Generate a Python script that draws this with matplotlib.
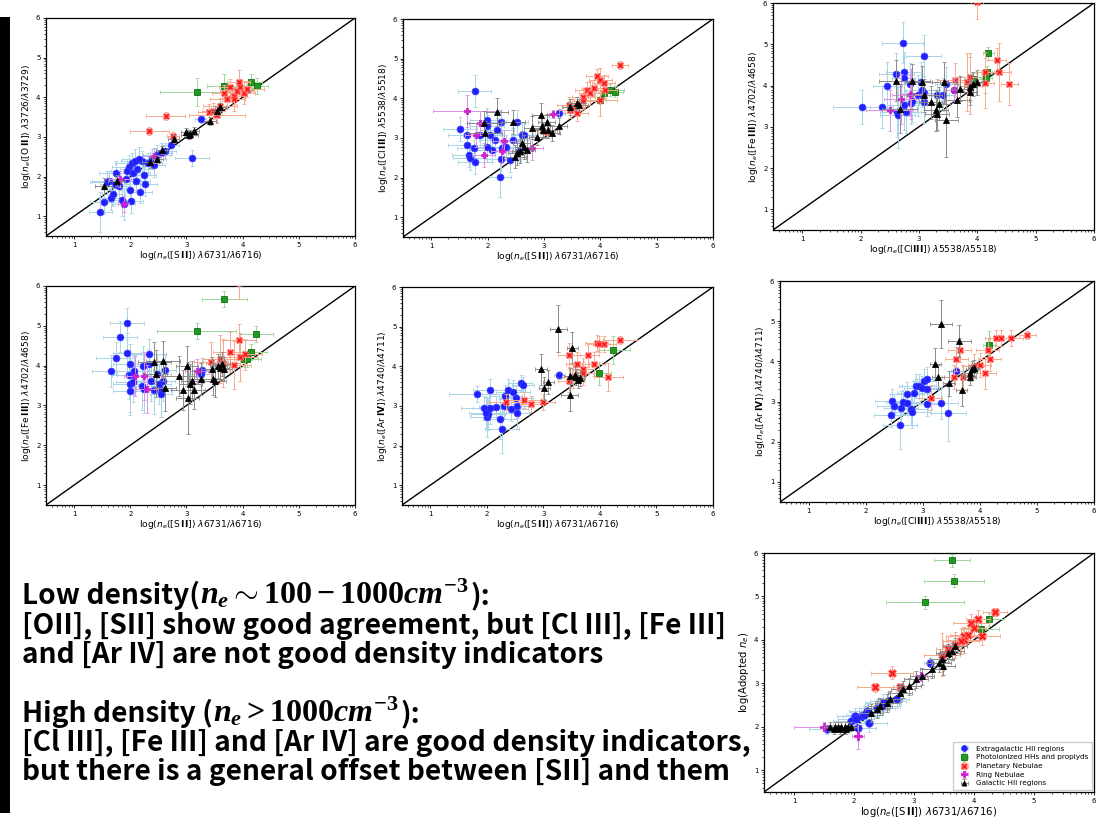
import numpy as np
import matplotlib
matplotlib.use('Agg')
import matplotlib.pyplot as plt
from matplotlib.patches import Rectangle
from matplotlib.ticker import FixedLocator

# each point: (x, y, xerr, yerr), log(ne) values read off the slide
# panel 1: [O II] vs [S II]
p1_ehii = [(1.47, 1.10, 0.2, 0.5), (1.53, 1.35, 0.25, 0.3), (1.65, 1.45, 0.2, 0.3), (1.62, 1.90, 0.3, 0.25),
           (1.70, 1.55, 0.2, 0.3), (1.75, 2.10, 0.3, 0.3), (1.80, 1.75, 0.2, 0.3), (1.85, 1.40, 0.2, 0.4),
           (1.88, 1.30, 0.2, 0.4), (1.92, 1.95, 0.25, 0.3), (1.97, 2.25, 0.3, 0.3), (2.00, 1.65, 0.2, 0.3),
           (2.02, 1.38, 0.2, 0.3), (2.03, 2.35, 0.3, 0.25), (2.05, 2.10, 0.3, 0.3), (2.08, 2.40, 0.25, 0.3),
           (2.12, 2.20, 0.3, 0.3), (2.18, 1.62, 0.2, 0.3), (2.20, 2.40, 0.25, 0.25), (2.25, 2.05, 0.2, 0.3),
           (2.27, 1.82, 0.2, 0.3), (2.32, 2.35, 0.25, 0.25), (2.38, 2.45, 0.25, 0.25), (2.42, 2.30, 0.2, 0.3),
           (2.48, 2.55, 0.25, 0.25), (2.55, 2.60, 0.2, 0.25), (2.62, 2.65, 0.2, 0.2), (2.72, 2.80, 0.15, 0.2),
           (3.10, 2.46, 0.3, 0.2), (3.25, 3.45, 0.1, 0.1), (1.72, 1.80, 0.25, 0.3), (1.95, 2.15, 0.3, 0.3),
           (2.10, 1.90, 0.25, 0.3), (1.58, 1.85, 0.3, 0.3), (2.15, 2.45, 0.3, 0.3)]
p1_hh = [(3.18, 4.14, 0.65, 0.35), (3.67, 4.28, 0.3, 0.3), (4.14, 4.38, 0.2, 0.2), (4.26, 4.28, 0.2, 0.2)]
p1_pn = [(2.63, 3.52, 0.35, 0.1), (2.34, 3.14, 0.35, 0.1), (2.76, 3.03, 0.1, 0.1), (3.40, 3.62, 0.2, 0.2),
         (3.48, 3.66, 0.2, 0.2), (3.60, 3.79, 0.3, 0.2), (3.72, 3.96, 0.3, 0.25), (3.78, 4.25, 0.2, 0.2),
         (3.84, 4.04, 0.2, 0.2), (3.84, 3.96, 0.2, 0.3), (3.90, 4.17, 0.3, 0.2), (3.93, 4.38, 0.2, 0.3),
         (3.96, 4.25, 0.2, 0.2), (4.02, 4.12, 0.2, 0.3), (4.08, 4.21, 0.3, 0.2), (3.66, 4.10, 0.2, 0.2),
         (3.55, 3.55, 0.5, 0.2)]
p1_rn = [(1.82, 1.94, 0.2, 0.2), (2.42, 2.53, 0.2, 0.2), (1.88, 1.30, 0.1, 0.2)]
p1_ghii = [(1.53, 1.77, 0.15, 0.2), (1.76, 1.90, 0.15, 0.15), (2.36, 2.36, 0.15, 0.15), (2.48, 2.45, 0.1, 0.1),
           (2.56, 2.66, 0.1, 0.1), (2.77, 2.95, 0.1, 0.1), (3.00, 3.12, 0.1, 0.1), (3.06, 3.08, 0.1, 0.1),
           (3.13, 3.16, 0.1, 0.1), (3.42, 3.41, 0.1, 0.1), (3.54, 3.66, 0.1, 0.1), (3.60, 3.75, 0.1, 0.1),
           (3.05, 3.05, 0.15, 0.1)]

# panel 2: [Cl III] vs [S II]
p2_ehii = [(1.51, 3.22, 0.3, 0.3), (1.64, 3.08, 0.35, 0.3), (1.64, 2.82, 0.35, 0.3), (1.67, 2.57, 0.3, 0.3),
           (1.68, 2.49, 0.3, 0.3), (1.76, 2.74, 0.3, 0.3), (1.78, 2.38, 0.3, 0.3), (1.77, 4.19, 0.3, 0.4),
           (1.87, 3.08, 0.3, 0.3), (1.99, 3.45, 0.3, 0.3), (1.99, 3.29, 0.3, 0.3), (1.99, 2.78, 0.3, 0.4),
           (2.05, 3.08, 0.25, 0.3), (2.08, 2.70, 0.3, 0.3), (2.14, 2.95, 0.3, 0.3), (2.17, 3.20, 0.3, 0.3),
           (2.23, 3.41, 0.3, 0.3), (2.23, 2.46, 0.3, 0.4), (2.22, 2.02, 0.2, 0.5), (2.26, 2.74, 0.2, 0.3),
           (2.32, 2.78, 0.3, 0.3), (2.40, 2.45, 0.2, 0.3), (2.46, 2.95, 0.3, 0.3), (2.52, 3.41, 0.2, 0.3),
           (2.55, 2.66, 0.2, 0.3), (2.61, 3.08, 0.2, 0.3), (2.64, 3.08, 0.2, 0.3), (3.26, 3.62, 0.1, 0.1)]
p2_hh = [(4.06, 4.13, 0.15, 0.15), (4.17, 4.21, 0.25, 0.15), (4.26, 4.17, 0.15, 0.15), (4.00, 3.96, 0.1, 0.1)]
p2_pn = [(4.35, 4.84, 0.15, 0.1), (3.94, 4.55, 0.2, 0.2), (4.00, 4.46, 0.2, 0.3), (4.06, 4.38, 0.2, 0.2),
         (3.76, 4.21, 0.2, 0.2), (3.82, 4.13, 0.2, 0.3), (3.88, 4.25, 0.2, 0.2), (3.70, 4.04, 0.2, 0.2),
         (3.70, 3.92, 0.2, 0.2), (3.53, 3.79, 0.2, 0.2), (3.44, 3.83, 0.2, 0.2), (3.58, 3.62, 0.2, 0.2),
         (3.47, 3.71, 0.2, 0.2), (4.00, 3.96, 0.3, 0.4), (4.09, 4.21, 0.2, 0.2), (3.05, 3.16, 0.15, 0.15)]
p2_rn = [(1.64, 3.68, 0.6, 0.4), (1.80, 3.08, 0.2, 0.3), (1.87, 3.37, 0.2, 0.3), (1.93, 2.57, 0.2, 0.3),
         (2.29, 2.91, 0.2, 0.3), (2.26, 2.66, 0.2, 0.3), (2.79, 2.74, 0.2, 0.3), (3.16, 3.60, 0.1, 0.1)]
p2_ghii = [(2.17, 3.66, 0.2, 0.35), (1.93, 3.37, 0.3, 0.3), (1.96, 3.12, 0.3, 0.3), (2.46, 3.41, 0.2, 0.3),
           (2.49, 2.53, 0.2, 0.3), (2.52, 2.61, 0.15, 0.3), (2.58, 2.66, 0.15, 0.3), (2.61, 2.87, 0.15, 0.3),
           (2.64, 2.78, 0.15, 0.3), (2.70, 2.70, 0.15, 0.3), (2.79, 3.26, 0.15, 0.3), (2.88, 3.03, 0.15, 0.2),
           (2.94, 3.58, 0.15, 0.3), (2.96, 3.29, 0.15, 0.2), (2.99, 3.20, 0.15, 0.2), (3.05, 3.41, 0.15, 0.2),
           (3.08, 3.20, 0.15, 0.2), (3.14, 3.12, 0.15, 0.2), (3.26, 3.30, 0.15, 0.2), (3.47, 3.79, 0.15, 0.2),
           (3.58, 3.87, 0.15, 0.15), (3.63, 3.83, 0.15, 0.15)]

# panel 3: [Fe III] vs [Cl III]
p3_ehii = [(2.02, 3.48, 0.5, 0.4), (2.36, 3.48, 0.2, 0.5), (2.46, 3.98, 0.25, 0.6), (2.61, 4.28, 0.3, 0.5),
           (2.63, 3.36, 0.3, 0.6), (2.64, 3.28, 0.3, 0.8), (2.72, 5.04, 0.35, 0.5), (2.74, 4.32, 0.3, 0.5),
           (2.74, 4.18, 0.2, 0.5), (2.75, 3.52, 0.3, 0.6), (2.78, 3.36, 0.25, 0.5), (2.85, 4.04, 0.2, 0.5),
           (2.87, 3.58, 0.2, 0.5), (2.89, 3.62, 0.2, 0.5), (2.98, 3.76, 0.2, 0.5), (3.03, 4.08, 0.2, 0.5),
           (3.06, 3.88, 0.3, 0.4), (3.08, 4.72, 0.3, 0.5), (3.08, 3.60, 0.3, 0.5), (3.09, 3.82, 0.2, 0.4),
           (3.31, 3.76, 0.2, 0.4), (3.42, 3.78, 0.2, 0.4), (3.47, 4.04, 0.2, 0.4), (3.60, 3.88, 0.15, 0.3)]
p3_hh = [(4.19, 4.78, 0.1, 0.15), (4.16, 4.32, 0.1, 0.15), (4.15, 4.18, 0.1, 0.15), (3.93, 4.16, 0.15, 0.15)]
p3_pn = [(3.61, 4.14, 0.3, 0.4), (3.82, 4.08, 0.2, 0.7), (3.88, 4.20, 0.2, 0.6), (3.88, 4.00, 0.2, 0.7),
         (4.13, 4.32, 0.15, 0.5), (4.13, 4.06, 0.15, 0.6), (4.34, 4.62, 0.15, 0.3), (4.37, 4.32, 0.2, 0.7),
         (4.55, 4.04, 0.15, 0.5), (3.99, 6.02, 0.1, 0.4)]
p3_rn = [(2.50, 3.40, 0.4, 0.5), (2.70, 3.68, 0.3, 0.6), (2.84, 3.76, 0.3, 0.5), (2.87, 3.80, 0.2, 0.6),
         (3.60, 3.88, 0.15, 0.3)]
p3_ghii = [(2.61, 4.12, 0.3, 0.5), (2.67, 3.44, 0.3, 0.6), (2.89, 4.12, 0.3, 0.4), (3.06, 4.08, 0.3, 0.4),
           (3.09, 3.76, 0.3, 0.4), (3.20, 3.60, 0.2, 0.4), (3.29, 3.40, 0.2, 0.5), (3.31, 3.32, 0.2, 0.4),
           (3.34, 3.56, 0.2, 0.4), (3.47, 3.16, 0.2, 0.9), (3.43, 4.08, 0.2, 0.5), (3.65, 3.64, 0.2, 0.4),
           (3.71, 3.92, 0.15, 0.3), (3.88, 3.96, 0.1, 0.3), (3.88, 3.84, 0.1, 0.3), (3.93, 4.04, 0.1, 0.3),
           (3.99, 4.08, 0.1, 0.3)]

# panel 4: [Fe III] vs [S II]
p4_ehii = [(1.66, 3.86, 0.35, 0.4), (1.74, 4.20, 0.35, 0.4), (1.82, 4.73, 0.3, 0.4), (1.94, 5.06, 0.3, 0.4),
           (1.94, 4.31, 0.25, 0.5), (1.97, 3.76, 0.3, 0.6), (1.99, 3.53, 0.3, 0.7), (2.00, 3.36, 0.3, 0.6),
           (2.00, 4.05, 0.3, 0.5), (2.05, 3.58, 0.3, 0.5), (2.06, 3.76, 0.3, 0.5), (2.07, 3.86, 0.3, 0.4),
           (2.21, 3.49, 0.25, 0.6), (2.23, 3.99, 0.25, 0.5), (2.24, 3.42, 0.25, 0.6), (2.33, 4.28, 0.3, 0.4),
           (2.34, 4.03, 0.3, 0.4), (2.37, 3.61, 0.25, 0.5), (2.42, 3.39, 0.25, 0.6), (2.48, 3.80, 0.25, 0.5),
           (2.52, 3.53, 0.2, 0.5), (2.54, 3.40, 0.2, 0.7), (2.55, 3.30, 0.2, 0.6), (2.59, 3.61, 0.2, 0.5),
           (2.61, 3.89, 0.2, 0.4), (3.25, 3.80, 0.2, 0.3), (3.28, 3.89, 0.15, 0.3)]
p4_hh = [(3.67, 5.68, 0.4, 0.2), (3.18, 4.86, 0.7, 0.2), (4.24, 4.79, 0.3, 0.2), (4.14, 4.34, 0.3, 0.2),
         (4.02, 4.17, 0.3, 0.2), (4.08, 4.16, 0.2, 0.2)]
p4_pn = [(3.44, 4.10, 0.3, 0.5), (3.60, 4.17, 0.3, 0.6), (3.65, 4.07, 0.3, 0.6), (3.78, 4.34, 0.3, 0.5),
         (3.85, 4.01, 0.3, 0.6), (3.93, 4.64, 0.3, 0.4), (3.96, 4.22, 0.3, 0.6), (4.05, 4.28, 0.3, 0.4),
         (3.93, 6.08, 0.2, 0.4)]
p4_rn = [(2.09, 3.74, 0.2, 0.5), (2.24, 3.74, 0.3, 0.6), (2.30, 3.42, 0.2, 0.6), (3.18, 3.86, 0.2, 0.3)]
p4_ghii = [(2.43, 4.10, 0.3, 0.5), (2.46, 3.80, 0.2, 0.6), (2.58, 4.11, 0.3, 0.5), (2.62, 3.45, 0.2, 0.6),
           (2.87, 3.74, 0.3, 0.5), (2.93, 3.39, 0.2, 0.5), (3.01, 3.99, 0.2, 0.5), (3.02, 3.19, 0.2, 0.9),
           (3.07, 3.53, 0.2, 0.5), (3.10, 3.61, 0.2, 0.5), (3.13, 3.40, 0.2, 0.5), (3.25, 3.66, 0.2, 0.4),
           (3.45, 3.91, 0.2, 0.3), (3.47, 3.66, 0.2, 0.4), (3.51, 3.61, 0.2, 0.4), (3.57, 3.99, 0.15, 0.3),
           (3.60, 3.93, 0.15, 0.3), (3.63, 4.03, 0.15, 0.3), (3.66, 3.91, 0.15, 0.3)]

# panel 5: [Ar IV] vs [S II]
p5_ehii = [(1.83, 3.30, 0.5, 0.2), (1.95, 2.94, 0.4, 0.3), (2.00, 2.71, 0.3, 0.5), (2.02, 2.80, 0.3, 0.4),
           (2.05, 3.39, 0.3, 0.3), (2.06, 2.94, 0.3, 0.4), (2.17, 2.96, 0.3, 0.3), (2.24, 2.67, 0.3, 0.5),
           (2.27, 2.42, 0.3, 0.6), (2.30, 3.00, 0.3, 0.3), (2.33, 3.24, 0.3, 0.3), (2.37, 3.39, 0.3, 0.3),
           (2.42, 2.92, 0.3, 0.3), (2.46, 3.35, 0.3, 0.3), (2.52, 3.21, 0.3, 0.3), (2.53, 3.00, 0.2, 0.3),
           (2.54, 2.83, 0.2, 0.4), (2.60, 3.58, 0.2, 0.2), (2.64, 3.54, 0.2, 0.2), (3.28, 3.78, 0.1, 0.1),
           (1.99, 2.82, 0.3, 0.4)]
p5_hh = [(3.99, 3.82, 0.2, 0.3), (4.24, 4.41, 0.3, 0.35)]
p5_pn = [(2.34, 3.09, 0.3, 0.2), (2.65, 3.15, 0.3, 0.2), (2.79, 3.05, 0.2, 0.2), (3.00, 3.09, 0.2, 0.2),
         (3.45, 4.28, 0.2, 0.3), (3.60, 4.05, 0.2, 0.3), (3.46, 3.64, 0.2, 0.3), (3.70, 3.92, 0.2, 0.3),
         (3.70, 3.82, 0.2, 0.3), (3.79, 4.28, 0.2, 0.3), (3.89, 4.05, 0.2, 0.3), (3.94, 4.59, 0.2, 0.2),
         (3.98, 4.56, 0.2, 0.2), (4.08, 4.57, 0.2, 0.2), (4.35, 4.66, 0.3, 0.1), (4.15, 3.73, 0.25, 0.35),
         (3.53, 3.74, 0.2, 0.3)]
p5_rn = []
p5_ghii = [(3.26, 4.95, 0.15, 0.6), (3.51, 4.47, 0.1, 0.4), (2.96, 3.92, 0.1, 0.4), (3.09, 3.60, 0.1, 0.3),
           (3.02, 3.44, 0.1, 0.3), (3.47, 3.28, 0.15, 0.4), (3.47, 3.75, 0.1, 0.2), (3.56, 3.77, 0.1, 0.2),
           (3.58, 3.72, 0.1, 0.2), (3.61, 3.66, 0.1, 0.2), (3.64, 3.70, 0.1, 0.2)]

# panel 6: [Ar IV] vs [Cl III]
p6_ehii = [(2.45, 2.66, 0.3, 0.3), (2.47, 3.01, 0.3, 0.3), (2.50, 2.88, 0.3, 0.3), (2.60, 2.42, 0.3, 0.6),
           (2.62, 2.85, 0.3, 0.4), (2.66, 2.99, 0.3, 0.3), (2.72, 3.18, 0.3, 0.3), (2.73, 2.96, 0.3, 0.3),
           (2.79, 2.81, 0.3, 0.4), (2.82, 2.74, 0.3, 0.4), (2.85, 3.22, 0.3, 0.3), (2.89, 3.38, 0.3, 0.3),
           (2.93, 3.38, 0.3, 0.3), (2.98, 3.34, 0.3, 0.3), (3.03, 3.51, 0.2, 0.3), (3.07, 3.55, 0.2, 0.3),
           (3.07, 3.32, 0.2, 0.3), (3.08, 2.95, 0.2, 0.3), (3.32, 2.96, 0.3, 0.4), (3.45, 2.71, 0.3, 0.7),
           (3.59, 3.77, 0.1, 0.1)]
p6_hh = [(4.16, 4.41, 0.1, 0.35), (3.90, 3.80, 0.1, 0.1)]
p6_pn = [(3.14, 3.10, 0.2, 0.3), (3.54, 3.61, 0.2, 0.3), (3.59, 4.06, 0.2, 0.3), (3.65, 4.29, 0.2, 0.3),
         (3.71, 3.61, 0.2, 0.3), (3.89, 3.88, 0.2, 0.3), (4.00, 3.92, 0.2, 0.3), (4.09, 3.71, 0.2, 0.4),
         (4.14, 4.29, 0.2, 0.3), (4.17, 4.06, 0.2, 0.3), (4.29, 4.58, 0.2, 0.2), (4.37, 4.59, 0.2, 0.2),
         (4.55, 4.58, 0.2, 0.2), (4.83, 4.66, 0.15, 0.1)]
p6_rn = []
p6_ghii = [(3.32, 4.93, 0.2, 0.6), (3.64, 4.50, 0.2, 0.4), (3.22, 3.94, 0.1, 0.4), (3.27, 3.61, 0.1, 0.3),
           (3.46, 3.45, 0.1, 0.3), (3.68, 3.29, 0.1, 0.4), (3.83, 3.71, 0.1, 0.2), (3.86, 3.80, 0.1, 0.2),
           (3.89, 3.84, 0.1, 0.2), (3.83, 3.61, 0.1, 0.2)]

# panel 7: adopted ne vs [S II]
p7_ehii = [(1.55, 1.94, 0.3, 0.1), (1.95, 2.13, 0.3, 0.2), (2.01, 2.24, 0.3, 0.2), (2.03, 2.17, 0.3, 0.2),
           (2.06, 1.97, 0.3, 0.3), (2.12, 2.24, 0.3, 0.2), (2.17, 2.28, 0.3, 0.2), (2.22, 2.36, 0.3, 0.2),
           (2.25, 2.09, 0.3, 0.2), (2.39, 2.43, 0.3, 0.2), (2.47, 2.47, 0.3, 0.2), (2.49, 2.55, 0.3, 0.2),
           (2.57, 2.59, 0.3, 0.2), (2.71, 2.63, 0.2, 0.2), (3.26, 3.48, 0.1, 0.1)]
p7_hh = [(3.64, 5.83, 0.3, 0.15), (3.67, 5.36, 0.5, 0.15), (3.18, 4.87, 0.65, 0.15), (4.25, 4.48, 0.25, 0.15),
         (4.12, 4.24, 0.3, 0.15)]
p7_pn = [(4.35, 4.64, 0.2, 0.1), (4.06, 4.48, 0.2, 0.2), (3.95, 4.39, 0.3, 0.2), (4.00, 4.27, 0.2, 0.2),
         (3.84, 4.08, 0.3, 0.2), (3.90, 4.12, 0.3, 0.2), (3.84, 4.00, 0.3, 0.3), (3.79, 3.97, 0.3, 0.3),
         (4.14, 4.08, 0.3, 0.2), (2.64, 3.25, 0.35, 0.15), (2.35, 2.91, 0.3, 0.1), (2.77, 2.91, 0.1, 0.1),
         (3.46, 3.66, 0.3, 0.5), (3.57, 3.78, 0.2, 0.3), (3.68, 3.89, 0.2, 0.3)]
p7_rn = [(1.50, 2.00, 0.5, 0.1), (2.06, 1.78, 0.1, 0.3), (3.11, 3.16, 0.1, 0.1)]
p7_ghii = [(1.60, 2.00, 0.1, 0.1), (1.68, 2.00, 0.1, 0.1), (1.74, 2.00, 0.1, 0.1), (1.79, 2.00, 0.1, 0.1),
           (1.85, 2.00, 0.1, 0.1), (1.90, 2.00, 0.1, 0.1), (1.95, 2.00, 0.1, 0.1), (1.66, 1.94, 0.1, 0.1),
           (1.77, 1.94, 0.1, 0.1), (1.87, 1.94, 0.1, 0.1), (2.28, 2.32, 0.2, 0.2), (2.39, 2.40, 0.2, 0.2),
           (2.44, 2.47, 0.2, 0.2), (2.55, 2.55, 0.2, 0.2), (2.60, 2.63, 0.2, 0.2), (2.76, 2.78, 0.2, 0.2),
           (2.82, 2.86, 0.2, 0.2), (2.92, 2.93, 0.2, 0.2), (3.03, 3.09, 0.2, 0.2), (3.14, 3.16, 0.2, 0.2),
           (3.30, 3.32, 0.2, 0.2), (3.41, 3.47, 0.2, 0.2), (3.46, 3.55, 0.2, 0.2), (3.49, 3.39, 0.2, 0.2),
           (3.57, 3.70, 0.2, 0.2), (3.63, 3.74, 0.2, 0.2), (3.68, 3.85, 0.2, 0.2)]

labels = ['Extragalactic HII regions', 'Photoionized HHs and proplyds', 'Planetary Nebulae',
          'Ring Nebulae', 'Galactic HII regions']

STYLES = [
    dict(marker='o', color='#1f1fff', mec='#3a3aff', ecolor='#a8d4e6', ms=4.8),
    dict(marker='s', color='#1e9a1e', mec='#107010', ecolor='#9ad89a', ms=4.4),
    dict(marker='X', color='#ff1a1a', mec='#ff7070', ecolor='#f6a98c', ms=5.0),
    dict(marker='P', color='#d020d0', mec='#d020d0', ecolor='#e090e8', ms=4.6),
    dict(marker='^', color='black', mec='black', ecolor='#8a8a8a', ms=3.8),
]

SII = r'log($n_e$([S$\,\mathbf{II}$]) $\lambda$6731/$\lambda$6716)'
CLIII = r'log($n_e$([Cl$\mathbf{III}$]) $\lambda$5538/$\lambda$5518)'
OII = r'log($n_e$([O$\,\mathbf{II}$]) $\lambda$3726/$\lambda$3729)'
CLIII_Y = r'log($n_e$([Cl$\,\mathbf{III}$]) $\lambda$5538/$\lambda$5518)'
FEIII = r'log($n_e$([Fe$\,\mathbf{III}$]) $\lambda$4702/$\lambda$4658)'
ARIV = r'log($n_e$([Ar$\,\mathbf{IV}$]) $\lambda$4740/$\lambda$4711)'
ADOPT = r'log(Adopted $n_e$)'

# log-style minor ticks
minor = [np.log10(k * 10 ** n) for n in range(0, 6) for k in range(2, 10)]
minor = [m for m in minor if 0.5 < m < 6 and abs(m - round(m)) > 1e-6]


def panel(ax, groups, xlabel, ylabel, scale=1.0, legend=False):
    ax.plot([0.5, 6], [0.5, 6], color='black', lw=1.0, zorder=1)
    for i, pts in enumerate(groups):
        if not pts:
            continue
        st = STYLES[i]
        x, y, xe, ye = np.array(pts).T
        ax.errorbar(x, y, xerr=xe, yerr=ye, fmt=st['marker'], color=st['color'], mec=st['mec'],
                    mew=0.6, ms=st['ms'] * scale, ecolor=st['ecolor'], elinewidth=0.7,
                    capsize=1.3, capthick=0.6, zorder=2 + i, label=labels[i])
    ax.set_xlim(0.5, 6)
    ax.set_ylim(0.5, 6)
    ax.set_xticks([1, 2, 3, 4, 5, 6])
    ax.set_yticks([1, 2, 3, 4, 5, 6])
    ax.xaxis.set_minor_locator(FixedLocator(minor))
    ax.yaxis.set_minor_locator(FixedLocator(minor))
    ax.tick_params(which='major', labelsize=5, length=2.5, width=0.6, pad=1.5)
    ax.tick_params(which='minor', length=1.5, width=0.5)
    for s in ax.spines.values():
        s.set_linewidth(0.9)
    ax.set_xlabel(xlabel, fontsize=6.6 * scale, labelpad=1)
    ax.set_ylabel(ylabel, fontsize=6.6 * scale, labelpad=2)
    if legend:
        ax.legend(loc='lower right', fontsize=5.2, frameon=True, borderaxespad=0.3,
                  handletextpad=0.6, labelspacing=0.35, borderpad=0.5, markerscale=0.8,
                  framealpha=1, edgecolor='#cccccc', fancybox=False)


W, H = 1098, 825
fig = plt.figure(figsize=(W / 100, H / 100), dpi=100)


def box(x0, y0, x1, y1):
    return [x0 / W, 1 - y1 / H, (x1 - x0) / W, (y1 - y0) / H]


fig.patches.append(Rectangle((0, 12 / H), 10 / W, (808 - 12) / H, transform=fig.transFigure,
                             facecolor='black', edgecolor='none'))

panel(fig.add_axes(box(46, 18, 355, 236)), [p1_ehii, p1_hh, p1_pn, p1_rn, p1_ghii], SII, OII)
panel(fig.add_axes(box(403, 19, 713, 237)), [p2_ehii, p2_hh, p2_pn, p2_rn, p2_ghii], SII, CLIII_Y)
panel(fig.add_axes(box(773, 3, 1094, 230)), [p3_ehii, p3_hh, p3_pn, p3_rn, p3_ghii], CLIII, FEIII)
panel(fig.add_axes(box(46, 286, 355, 505)), [p4_ehii, p4_hh, p4_pn, p4_rn, p4_ghii], SII, FEIII)
panel(fig.add_axes(box(402, 287, 713, 505)), [p5_ehii, p5_hh, p5_pn, p5_rn, p5_ghii], SII, ARIV)
panel(fig.add_axes(box(780, 281, 1094, 502)), [p6_ehii, p6_hh, p6_pn, p6_rn, p6_ghii], CLIII, ARIV)
panel(fig.add_axes(box(764, 553, 1094, 792)), [p7_ehii, p7_hh, p7_pn, p7_rn, p7_ghii], SII, ADOPT,
      scale=1.1, legend=True)

# slide text; math pieces in bold serif, a bit larger like the slide's math font
plt.rcParams['mathtext.fontset'] = 'custom'
plt.rcParams['mathtext.rm'] = 'Liberation Serif:bold'
plt.rcParams['mathtext.it'] = 'Liberation Serif:italic:bold'
plt.rcParams['mathtext.bf'] = 'Liberation Serif:bold'

TXT = 20.2
MATH = 23.0
# baselines in pixels from the top, each line made of pieces
lines = [
    (604, ['Low density(', r'$n_e{\sim}100 - 1000cm^{-3}$', '):']),
    (634, ['[OII], [SII] show good agreement, but [Cl III], [Fe III]']),
    (663, ['and [Ar IV] are not good density indicators']),
    (722, ['High density (', r'$n_e > 1000cm^{-3}$', '):']),
    (751, ['[Cl III], [Fe III] and [Ar IV] are good density indicators,']),
    (780, ['but there is a general offset between [SII] and them']),
]
renderer = fig.canvas.get_renderer()
for yy, pieces in lines:
    x = 22
    for s in pieces:
        is_math = s.startswith('$')
        t = fig.text(x / W, 1 - yy / H, s, fontsize=MATH if is_math else TXT, fontweight='bold',
                     family=['Noto Sans CJK JP', 'DejaVu Sans'],
                     va='baseline', ha='left', math_fontfamily='custom')
        x = t.get_window_extent(renderer).x1 + (2 if is_math else 0)

fig.savefig('out.png', dpi=100)
